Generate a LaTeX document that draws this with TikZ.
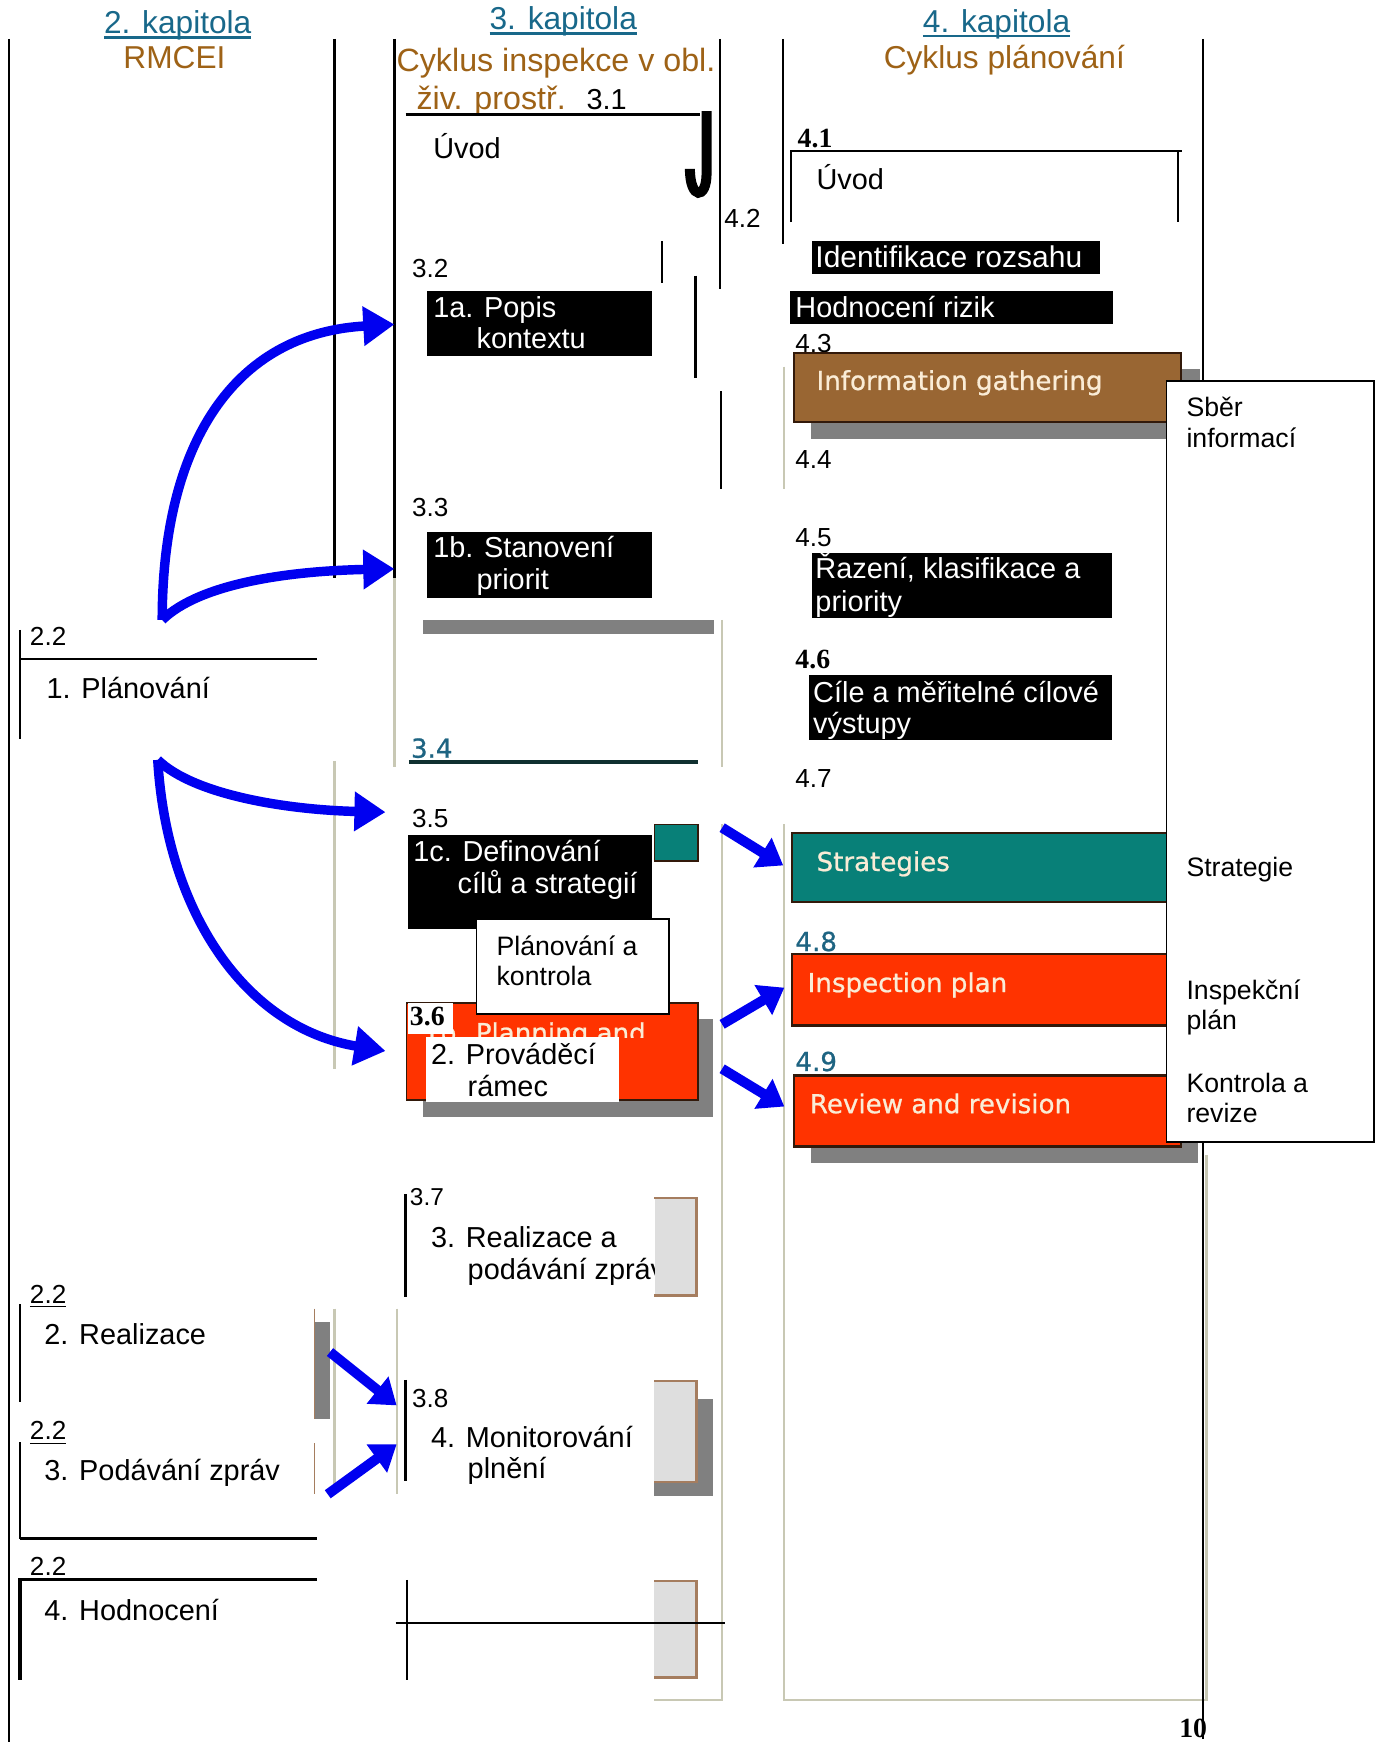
\documentclass[tikz,border=0pt]{standalone}
\usepackage{fontspec}
\setmainfont{Liberation Sans}
\newfontfamily\timesf{Liberation Serif}
\newfontfamily\verdf{DejaVu Sans}[FakeBold=0.8]
\usetikzlibrary{arrows.meta,calc}

\definecolor{capteal}{RGB}{24,104,138}
\definecolor{capbrown}{RGB}{158,98,22}
\definecolor{boxbrown}{RGB}{153,102,51}
\definecolor{boxteal}{RGB}{8,128,120}
\definecolor{boxred}{RGB}{255,51,0}
\definecolor{cream}{RGB}{250,236,214}
\definecolor{shadowgray}{RGB}{128,128,128}
\definecolor{panelline}{RGB}{200,200,180}
\definecolor{arrowblue}{RGB}{0,0,240}
\definecolor{framebrown}{RGB}{165,125,95}
\definecolor{lightbox}{RGB}{222,222,222}
\definecolor{numteal}{RGB}{30,100,130}
\definecolor{darkline}{RGB}{16,48,48}
\definecolor{edgedark}{RGB}{50,25,10}

\begin{document}
\begin{tikzpicture}[x=1pt,y=-1pt,
  every node/.style={inner sep=0pt, outer sep=0pt},
  hdr/.style={anchor=base, font=\fontsize{28.5}{32}\selectfont},
  hdrl/.style={anchor=base west, font=\fontsize{29}{32}\selectfont},
  txt/.style={anchor=base west, font=\fontsize{26}{29}\selectfont},
  txs/.style={anchor=base west, font=\fontsize{24}{27}\selectfont},
  nr/.style={anchor=base west, font=\fontsize{23.5}{26}\selectfont},
  nrb/.style={anchor=base west, font=\timesf\bfseries\fontsize{25}{28}\selectfont},
  en/.style={anchor=base west, text=cream, font=\verdf\fontsize{23.5}{26}\selectfont},
  nrt/.style={anchor=base west, text=numteal, font=\verdf\fontsize{23.5}{26}\selectfont},
  bline/.style={line width=2pt},
  pline/.style={draw=panelline, line width=2pt},
  barrow/.style={draw=arrowblue, line width=8.5pt, -{Triangle[length=28pt,width=34pt]}},
  sarrow/.style={draw=arrowblue, line width=9pt, -{Triangle[length=22pt,width=30pt]}},
]
% page
\fill[white] (0,0) rectangle (1239,1568);
\useasboundingbox (0,0) rectangle (1239,1568);

% light panel edges
\draw[pline] (355,520) -- (355,690);
\draw[pline] (301,685) -- (301,962);
\draw[pline] (650,558) -- (650,690);
\draw[pline] (650,742) -- (650,1530) -- (589,1530);
\draw[pline] (706,330) -- (706,440);
\draw[pline] (706,742) -- (706,1530) -- (1086,1530) -- (1086,1040);
\draw[pline] (301,1178) -- (301,1345);
\draw[pline] (357,1178) -- (357,1345);

% chapter headings
\node[hdr, text=capteal] (k2) at (160,30) {2. kapitola};
\draw[capteal, line width=2.5pt] ($(k2.base west)+(0,3.5)$) -- ($(k2.base east)+(0,3.5)$);
\node[hdr, text=capbrown] (rmcei) at (157,62) {RMCEI};
\node[hdr, text=capteal] (k3) at (507,27) {3. kapitola};
\draw[capteal, line width=2.5pt] ($(k3.base west)+(0,3.5)$) -- ($(k3.base east)+(0,3.5)$);
\node[hdrl, text=capbrown] (cyk3a) at (357,64) {Cyklus inspekce v obl.};
\node[hdrl, text=capbrown] (cyk3b) at (375,99) {živ. prostř.};
\node[txt] (n31) at (528,99) {3.1};
\node[hdr, text=capteal] (k4) at (897,29) {4. kapitola};
\draw[capteal, line width=2.5pt] ($(k4.base west)+(0,3.5)$) -- ($(k4.base east)+(0,3.5)$);
\node[hdr, text=capbrown] (cyk4) at (904,62) {Cyklus plánování};

% column rules
\draw[bline] (8,35) -- (8,1568);
\draw[bline] (365,103) -- (630,103);
\draw[line width=9pt] (636,100) -- (636,156) .. controls (636,180) and (621,180) .. (621,152);
\node[nr] (n42) at (652,205) {4.2};

% chapter 3 column
\node[txt] (uvod3) at (390,143) {Úvod};
\draw[bline] (596,217) -- (596,255);
\draw[bline] (626,248) -- (626,340);
\draw[bline] (649,352) -- (649,440);
\node[nr] (n32) at (371,250) {3.2};
\fill (384,262) rectangle (587,320);
\node[txt, text=white] (p1a) at (390,286) {1a. Popis};
\node[txt, text=white] (p1a2) at (429,314) {kontextu};
\node[nr] (n33) at (371,465) {3.3};
\fill (384,479) rectangle (587,538);
\node[txt, text=white] (p1b) at (390,502) {1b. Stanovení};
\node[txt, text=white] (p1b2) at (429,531) {priorit};
\fill[shadowgray] (381,558) rectangle (643,571);
\node[nrt] (n34) at (370,682) {3.4};
\draw[darkline, line width=3pt] (368,686) -- (628,686);
\node[nr] (n35) at (371,745) {3.5};
\fill[boxteal, draw=edgedark, line width=1.5pt] (589,742) rectangle (628,775);
\fill (367,752) rectangle (587,836);
\node[txt, text=white] (p1c) at (372,775) {1c. Definování};
\node[txt, text=white] (p1c2) at (412,804) {cílů a strategií};
% box 3.6
\fill[shadowgray] (381,917) rectangle (642,1005);
\filldraw[fill=boxred, draw=edgedark, line width=1.5pt] (366,903) rectangle (628,990);
\begin{scope}
  \clip (366,903) rectangle (628,934);
  \node[en] (plan36) at (381,938) {1b. Planning and};
\end{scope}
\fill[white] (367,903) rectangle (408,931);
\node[nrb] (n36) at (369,923) {3.6};
\filldraw[fill=white, draw=black, line width=1.5pt] (429,827) rectangle (602,913);
\node[txs] (pk1) at (447,860) {Plánování a};
\node[txs] (pk2) at (447,887) {kontrola};
\fill[white] (383,933) rectangle (557,992);
\node[txt] (pr1) at (388,958) {2. Prováděcí};
\node[txt] (pr2) at (421,987) {rámec};

% lower part of chapter 3 column
\draw[bline] (365,1075) -- (365,1167);
\node[anchor=base west, font=\fontsize{22}{25}\selectfont] (n37) at (369,1085) {3.7};
\node[txt] (re1) at (388,1123) {3. Realizace a};
\node[txt] (re2) at (421,1152) {podávání zpráv};
\fill[lightbox] (590,1078) rectangle (627,1166);
\draw[framebrown, line width=2pt] (589,1078) -- (627,1078) -- (627,1166) -- (589,1166);
\draw[bline] (365,1242) -- (365,1333);
\node[nr] (n38) at (371,1267) {3.8};
\node[txt] (mo1) at (388,1303) {4. Monitorování};
\node[txt] (mo2) at (421,1331) {plnění};
\fill[shadowgray] (589,1259) rectangle (642,1347);
\fill[lightbox] (589,1243) rectangle (627,1334);
\draw[framebrown, line width=2pt] (589,1243) -- (627,1243) -- (627,1334) -- (589,1334);
\fill[lightbox] (589,1423) rectangle (627,1510);
\draw[framebrown, line width=2pt] (589,1423) -- (627,1423) -- (627,1510) -- (589,1510);
\draw[bline] (366,1422) -- (366,1512);
\draw[line width=1.5pt] (356,1461) -- (653,1461);

% chapter 4 column
\node[nrb] (n41) at (718,133) {4.1};
\draw[bline] (712,200) -- (712,136) -- (1064,136);
\draw[bline] (1060,136) -- (1060,200);
\node[txt] (uvod4) at (735,171) {Úvod};
\fill (731,217) rectangle (990,247);
\node[anchor=base west, font=\fontsize{27}{30}\selectfont, text=white] (ident) at (734,241) {Identifikace rozsahu};
\fill (711,262) rectangle (1002,292);
\node[txt, text=white] (hodn) at (716,286) {Hodnocení rizik};
\node[nr] (n43) at (716,317) {4.3};
\fill[shadowgray] (730,332) rectangle (1080,395);
\filldraw[fill=boxbrown, draw=edgedark, line width=2pt] (715,318) rectangle (1063,380);
\node[en] (infog) at (735,351) {Information gathering};
\node[nr] (n44) at (716,422) {4.4};
\node[nr] (n45) at (716,492) {4.5};
\fill (731,498) rectangle (1001,556);
\node[txt, text=white] (raz1) at (734,521) {Řazení, klasifikace a};
\node[txt, text=white] (raz2) at (734,550) {priority};
\node[nrb] (n46) at (716,602) {4.6};
\fill (728,608) rectangle (1001,666);
\node[txt, text=white] (cil1) at (732,632) {Cíle a měřitelné cílové};
\node[txt, text=white] (cil2) at (732,660) {výstupy};
\node[nr] (n47) at (716,709) {4.7};
\filldraw[fill=boxteal, draw=edgedark, line width=2pt] (713,750) rectangle (1063,812);
\node[en] (strat) at (735,784) {Strategies};
\node[nrt] (n48) at (716,856) {4.8};
\filldraw[fill=boxred, draw=edgedark, line width=2pt] (713,859) rectangle (1063,923);
\node[en] (insp) at (727,893) {Inspection plan};
\node[nrt] (n49) at (716,964) {4.9};
\fill[shadowgray] (730,985) rectangle (1078,1047);
\filldraw[fill=boxred, draw=edgedark, line width=2pt] (715,968) rectangle (1063,1032);
\node[en] (review) at (729,1002) {Review and revision};

% column rules drawn over the content
\draw[bline] (301,35) -- (301,520);
\draw[bline] (355,35) -- (355,520);
\draw[bline] (648,35) -- (648,260);
\draw[bline] (705,35) -- (705,220);
\draw[bline] (1083,35) -- (1083,1565);

% Czech glosses box
\filldraw[fill=white, draw=black, line width=1.5pt] (1050,343) rectangle (1237,1028);
\node[txs] (g1) at (1068,375) {Sběr};
\node[txs] (g1b) at (1068,403) {informací};
\node[txs] (g2) at (1068,789) {Strategie};
\node[txs] (g3) at (1068,900) {Inspekční};
\node[txs] (g3b) at (1068,927) {plán};
\node[txs] (g4) at (1068,983) {Kontrola a};
\node[txs] (g4b) at (1068,1010) {revize};

% chapter 2 column
\draw[bline] (18,567) -- (18,665);
\draw[bline] (18,593) -- (285,593);
\node[nr] (s22a) at (27,581) {2.2};
\node[txt] (plan1) at (42,629) {1. Plánování};
\draw[bline] (18,1174) -- (18,1262);
\node[nr] (s22b) at (27,1173) {2.2};
\draw[line width=1.2pt] ($(s22b.base west)+(0,3)$) -- ($(s22b.base east)+(0,3)$);
\node[txt] (real2) at (40,1210) {2. Realizace};
\draw[bline] (18,1298) -- (18,1385);
\node[nr] (s22c) at (27,1296) {2.2};
\draw[line width=1.2pt] ($(s22c.base west)+(0,3)$) -- ($(s22c.base east)+(0,3)$);
\node[txt] (pod3) at (40,1333) {3. Podávání zpráv};
\draw[line width=3pt] (18,1385) -- (285,1385);
\node[nr] (s22d) at (27,1418) {2.2};
\draw[line width=3pt] (18,1512) -- (18,1422) -- (285,1422);
\node[txt] (hod4) at (40,1459) {4. Hodnocení};
\fill[shadowgray] (283,1190) rectangle (297,1277);
\draw[framebrown, line width=1.5pt] (283,1178) -- (283,1277);
\draw[framebrown, line width=1.5pt] (283,1299) -- (283,1345);

% arrows
\coordinate (fromA) at (146,558);
\coordinate (fromB) at (142,684);
\coordinate (to1a) at (355,292);
\coordinate (to1b) at (355,512);
\coordinate (to1c) at (347,731);
\coordinate (to2) at (347,946);
\draw[barrow] (fromA) .. controls (146,400) and (210,300) .. (to1a);
\draw[barrow] (fromA) .. controls (180,525) and (260,514) .. (to1b);
\draw[barrow] (fromB) .. controls (175,716) and (260,729) .. (to1c);
\draw[barrow] (fromB) .. controls (150,820) and (220,925) .. (to2);
\coordinate (s1) at (650,745);  \coordinate (t1) at (705,779);
\coordinate (s2) at (650,922);  \coordinate (t2) at (706,889);
\coordinate (s3) at (650,962);  \coordinate (t3) at (706,996);
\coordinate (s4) at (297,1217); \coordinate (t4) at (357,1265);
\coordinate (s5) at (295,1345); \coordinate (t5) at (357,1300);
\draw[sarrow] (s1) -- (t1);
\draw[sarrow] (s2) -- (t2);
\draw[sarrow] (s3) -- (t3);
\draw[sarrow] (s4) -- (t4);
\draw[sarrow] (s5) -- (t5);

% page number
\node[anchor=base, font=\timesf\bfseries\fontsize{25}{28}\selectfont] (pg) at (1074,1564) {10};
\end{tikzpicture}
\end{document}
